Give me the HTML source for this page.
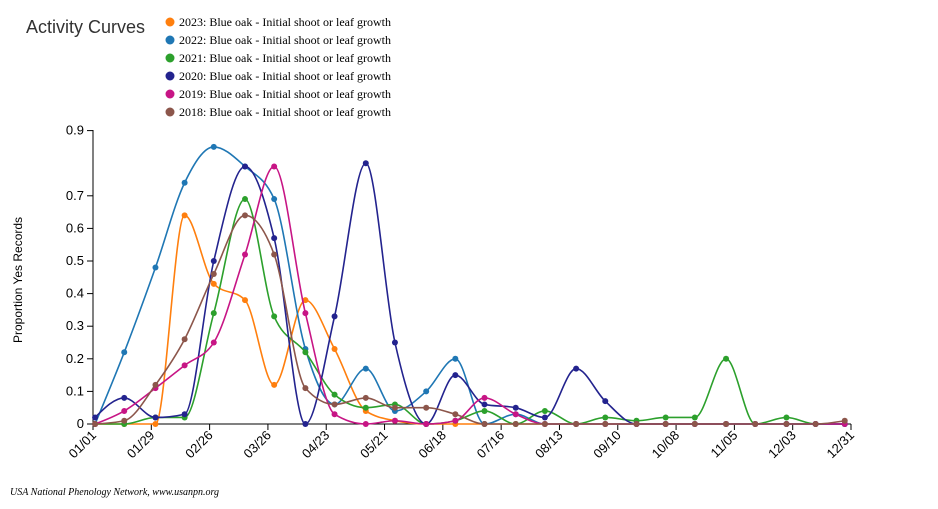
<!DOCTYPE html>
<html><head><meta charset="utf-8"><style>
body{margin:0;background:#fff;width:938px;height:504px;overflow:hidden}
svg text{font-family:"Liberation Sans",sans-serif}
</style></head><body>
<svg id="chart" width="938" height="504" xmlns="http://www.w3.org/2000/svg">
<text x="26" y="33" font-size="18" fill="#333">Activity Curves</text>
<g id="legend"></g>
<g id="axes"></g><g id="series"></g>
<text transform="translate(22,280) rotate(-90)" text-anchor="middle" font-size="12" fill="#000">Proportion Yes Records</text>
<text x="10" y="495" font-size="10" font-style="italic" style="font-family:'Liberation Serif',serif" fill="#000">USA National Phenology Network, www.usanpn.org</text>
</svg>
<script>
const days=[1,15,30,44,58,73,87,102,116,131,145,160,174,188,203,217,232,246,261,275,289,304,318,333,347,361];
const seriesNames=["2023: Blue oak - Initial shoot or leaf growth","2022: Blue oak - Initial shoot or leaf growth","2021: Blue oak - Initial shoot or leaf growth","2020: Blue oak - Initial shoot or leaf growth","2019: Blue oak - Initial shoot or leaf growth","2018: Blue oak - Initial shoot or leaf growth"];
const colors=["#ff7f0e","#1f77b4","#2ca02c","#23238e","#c71585","#8c564b"];
const v2023=[0,0,0,0.64,0.43,0.38,0.12,0.38,0.23,0.04,0.01,0,0,0,0,0,0,0,0,0,0,0];
const v2022=[0,0.22,0.48,0.74,0.85,0.79,0.69,0.23,0.06,0.17,0.04,0.10,0.20,0,0.03,0,0,0,0,0,0,0,0,0,0,0];
const v2021=[0,0,0.02,0.02,0.34,0.69,0.33,0.22,0.09,0.05,0.06,0,0.01,0.04,0,0.04,0,0.02,0.01,0.02,0.02,0.20,0,0.02,0,0];
const v2020=[0.02,0.08,0.02,0.03,0.50,0.79,0.57,0,0.33,0.80,0.25,0,0.15,0.06,0.05,0.02,0.17,0.07,0,0,0,0,0,0,0,0];
const v2019=[0,0.04,0.11,0.18,0.25,0.52,0.79,0.34,0.03,0,0.01,0,0.01,0.08,0.03,0,0,0,0,0,0,0,0,0,0,0];
const v2018=[0,0.01,0.12,0.26,0.46,0.64,0.52,0.11,0.06,0.08,0.05,0.05,0.03,0,0,0,0,0,0,0,0,0,0,0,0,0.01];
const yTicks=[0,0.1,0.2,0.3,0.4,0.5,0.6,0.7,0.9];
const xTickDays=[0,28,56,84,112,140,168,196,224,252,280,308,336,364];
const xTickLabels=["01/01","01/29","02/26","03/26","04/23","05/21","06/18","07/16","08/13","09/10","10/08","11/05","12/03","12/31"];
const allSeries=[v2023,v2022,v2021,v2020,v2019,v2018];
const NS="http://www.w3.org/2000/svg";
const x=d=>93+d*(758/364);
const y=v=>424-v*(293.4/0.9);
function mk(t,a,p){const e=document.createElementNS(NS,t);for(const k in a)e.setAttribute(k,a[k]);p.appendChild(e);return e;}
const axes=document.getElementById('axes');
let e=mk('line',{x1:93,y1:424,x2:851,y2:424,stroke:'#000'},axes);

e=mk('line',{x1:93,y1:130,x2:93,y2:424,stroke:'#000'},axes);

yTicks.forEach(t=>{
 const l=mk('line',{x1:87,y1:y(t),x2:93,y2:y(t),stroke:'#000'},axes);
 
 
 const tx=mk('text',{x:84,y:y(t)+4,'text-anchor':'end','font-size':13},axes);tx.textContent=t;
 
 
});
xTickDays.forEach((d,i)=>{
 const l=mk('line',{x1:x(d),y1:424,x2:x(d),y2:430,stroke:'#000'},axes);
 
 
 const tx=mk('text',{transform:`translate(${x(d)+4},${436}) rotate(-45)`,'text-anchor':'end','font-size':13},axes);tx.textContent=xTickLabels[i];
 
 
});
function sgn(v){return v<0?-1:1;}
function path(pts){
 const n=pts.length;
 if(n<2)return '';
 const dx=[],sl=[];
 for(let i=0;i<n-1;i++){dx[i]=pts[i+1][0]-pts[i][0];sl[i]=(pts[i+1][1]-pts[i][1])/dx[i];}
 const t=[];
 for(let i=1;i<n-1;i++){
  const s0=sl[i-1],s1=sl[i],h0=dx[i-1],h1=dx[i];
  const p=(s0*h1+s1*h0)/(h0+h1);
  t[i]=(sgn(s0)+sgn(s1))*Math.min(Math.abs(s0),Math.abs(s1),0.5*Math.abs(p))||0;
 }
 t[0]=n>2?(3*sl[0]-t[1])/2:sl[0];
 t[n-1]=n>2?(3*sl[n-2]-t[n-2])/2:sl[0];
 let d=`M${pts[0][0]},${pts[0][1]}`;
 for(let i=0;i<n-1;i++){
  const h=dx[i]/3;
  d+=`C${pts[i][0]+h},${pts[i][1]+h*t[i]} ${pts[i+1][0]-h},${pts[i+1][1]-h*t[i+1]} ${pts[i+1][0]},${pts[i+1][1]}`;
 }
 return d;
}
const sg=document.getElementById('series');
for(let s=0;s<allSeries.length;s++){
 const vals=allSeries[s];
 const g=mk('g',{},sg);
 
 
 const pts=vals.map((v,i)=>[x(days[i]),y(v)]);
 const p=mk('path',{d:path(pts),fill:'none',stroke:colors[s],'stroke-width':1.6},g);
 
 
 pts.forEach(pt=>{
  const c=mk('circle',{cx:pt[0],cy:pt[1],r:3,fill:colors[s]},g);
  
  
 });
}
const lg=document.getElementById('legend');
seriesNames.forEach((n,i)=>{
 const g=mk('g',{},lg);
 
 
 mk('circle',{cx:170,cy:22+i*18,r:4.5,fill:colors[i]},g);
 const t=mk('text',{x:179,y:26+i*18,'font-size':12,style:"font-family:'Liberation Serif',serif"},g);t.textContent=n;
});
</script>
</body></html>
